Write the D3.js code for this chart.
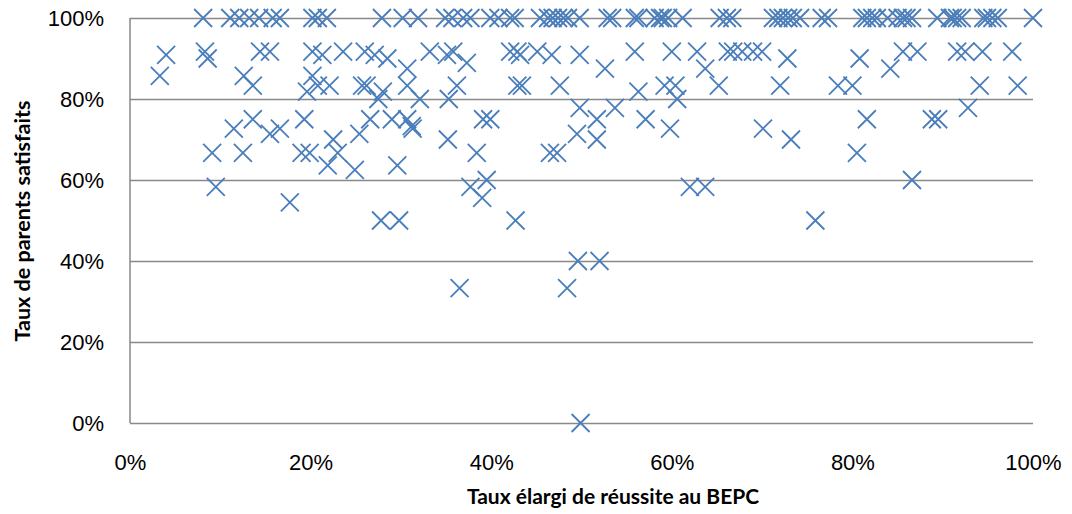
<!DOCTYPE html>
<html>
<head>
<meta charset="utf-8">
<script src="https://cdn.jsdelivr.net/npm/d3@7"></script>
<style>
  body { margin: 0; background: #fff; }
  svg { font-family: Lato, "Open Sans", sans-serif; }
</style>
</head>
<body>
<div id="chart"></div>
<script>
// taux élargi de réussite au BEPC (x, %) et taux de parents satisfaits (y, %)
const reussiteBEPC = [
  // ligne 100 %
  8.1, 11.1, 12.1, 13.2, 14.3, 15.8, 16.6, 20.2, 20.8, 21.8,
  27.9, 30.2, 31.9, 34.9, 35.7, 36.9, 37.7, 39.9, 40.8, 42.1,
  42.6, 45.4, 46.3, 46.8, 47.4, 48.0, 48.5, 49.8, 52.9, 53.4,
  55.9, 56.3, 58.1, 58.7, 59.0, 59.6, 61.2, 65.3, 66.1, 66.7,
  71.2, 71.8, 72.3, 72.9, 73.4, 74.2, 76.6, 77.3, 81.1, 81.6,
  82.2, 82.7, 83.9, 85.0, 85.6, 86.0, 86.6, 89.4, 90.8, 91.1,
  91.6, 92.1, 94.5, 94.9, 95.5, 96.1, 100,
  // autour de 90 %
  4.0, 8.3, 8.6, 14.4, 15.5, 20.2, 21.3, 23.6, 26.0, 27.1,
  28.5, 33.2, 35.1, 35.8, 42.1, 42.9, 43.2, 45.1, 46.7, 49.8,
  55.9, 60.0, 62.8, 66.2, 66.8, 67.8, 69.0, 70.0, 72.8, 80.8,
  85.6, 87.2, 91.6, 92.5, 94.4, 97.7,
  37.3, 30.7, 52.6, 63.7, 84.2,
  // 80 - 86 %
  3.3, 12.6, 13.6, 20.2, 19.6, 20.8, 22.1, 25.7, 26.2, 30.7,
  28.0, 27.5, 36.2, 42.9, 43.4, 47.6, 35.3, 32.1, 56.3, 59.2,
  60.4, 60.6, 65.2, 72.0, 78.4, 80.0, 94.1, 98.3,
  // 70 - 78 %
  11.5, 13.6, 15.5, 16.6, 19.3, 26.6, 29.0, 30.7, 31.2, 31.3,
  25.4, 22.5, 39.1, 39.9, 35.2, 49.8, 51.7, 49.5, 51.7, 53.7,
  57.1, 59.8, 70.1, 73.2, 81.6, 88.8, 89.5, 92.8,
  // 54 - 67 %
  9.1, 12.5, 19.0, 19.9, 23.0, 21.9, 29.6, 24.9, 9.5, 17.7,
  38.4, 46.5, 47.3, 39.5, 37.7, 39.0, 62.0, 63.7, 80.5, 86.6,
  // en dessous
  27.8, 29.8, 42.7, 75.9, 49.6, 52.0, 36.5, 48.4, 49.9
];

const parentsSatisfaits = [
  100, 100, 100, 100, 100, 100, 100, 100, 100, 100,
  100, 100, 100, 100, 100, 100, 100, 100, 100, 100,
  100, 100, 100, 100, 100, 100, 100, 100, 100, 100,
  100, 100, 100, 100, 100, 100, 100, 100, 100, 100,
  100, 100, 100, 100, 100, 100, 100, 100, 100, 100,
  100, 100, 100, 100, 100, 100, 100, 100, 100, 100,
  100, 100, 100, 100, 100, 100, 100,
  90.9, 91.7, 90, 91.7, 91.7, 91.7, 90.9, 91.7, 91.7, 90.9,
  90, 91.7, 90.9, 91.7, 91.7, 91.7, 90.9, 91.7, 90.9, 90.9,
  91.7, 91.7, 91.7, 91.7, 91.7, 91.7, 91.7, 91.7, 90, 90,
  91.7, 91.7, 91.7, 91.7, 91.7, 91.7,
  88.9, 87.5, 87.5, 87.5, 87.5,
  85.7, 85.7, 83.3, 85.7, 81.8, 83.3, 83.3, 83.3, 83.3, 83.3,
  81.8, 80, 83.3, 83.3, 83.3, 83.3, 80, 80, 81.8, 83.3,
  83.3, 80, 83.3, 83.3, 83.3, 83.3, 83.3, 83.3,
  72.7, 75, 71.4, 72.7, 75, 75, 75, 75, 73.3, 72.7,
  71.4, 70, 75, 75, 70, 77.8, 75, 71.4, 70, 77.8,
  75, 72.7, 72.7, 70, 75, 75, 75, 77.8,
  66.7, 66.7, 66.7, 66.7, 66.7, 63.6, 63.6, 62.5, 58.3, 54.5,
  66.7, 66.7, 66.7, 60, 58.3, 55.6, 58.3, 58.3, 66.7, 60,
  50, 50, 50, 50, 40, 40, 33.3, 33.3, 0
];

const xTicks = [0, 20, 40, 60, 80, 100];
const yTicks = [0, 20, 40, 60, 80, 100];

const titreX = "Taux élargi de réussite au BEPC";
const titreY = "Taux de parents satisfaits";

let w = 1072, h = 514;
let m = {top: 18, right: 39, bottom: 91, left: 130};

let svg = d3.select("#chart").append("svg")
    .attr("width", w)
    .attr("height", h);

let x = d3.scaleLinear().domain([0, 100]).range([m.left, w - m.right]);
let y = d3.scaleLinear().domain([0, 100]).range([h - m.bottom, m.top]);

let grey = "#898989";

// grille horizontale + libellés Y
let gy = svg.append("g")
    .attr("transform", "translate(" + m.left + ",0)")
    .call(d3.axisLeft(y)
      .tickValues(yTicks)
      .tickSize(-(x(100) - x(0)))
      .tickPadding(26)
      .tickFormat(d => d + "%"));
gy.select(".domain").remove();
gy.selectAll(".tick line").attr("stroke", grey).attr("stroke-width", 1.5);
gy.selectAll("text").attr("font-size", 22).attr("fill", "#000");

// axe vertical
svg.append("line")
    .attr("x1", x(0)).attr("x2", x(0))
    .attr("y1", y(0)).attr("y2", y(100))
    .attr("stroke", grey)
    .attr("stroke-width", 1.5);

// libellés X
let gx = svg.append("g")
    .attr("transform", "translate(0," + y(0) + ")")
    .call(d3.axisBottom(x)
      .tickValues(xTicks)
      .tickSize(0)
      .tickPadding(31)
      .tickFormat(d => d + "%"));
gx.select(".domain").remove();
gx.selectAll("text").attr("font-size", 22).attr("fill", "#000");

// points (croix)
let r = 9;
let pts = svg.append("g")
    .attr("stroke", "#4a7ebb")
    .attr("stroke-width", 1.8)
    .attr("fill", "none");

pts.selectAll("path")
  .data(reussiteBEPC.map((d, i) => [d, parentsSatisfaits[i]]))
  .enter().append("path")
    .attr("d", d => {
      let cx = x(d[0]), cy = y(d[1]);
      return "M" + (cx - r) + "," + (cy - r) + "L" + (cx + r) + "," + (cy + r) +
             "M" + (cx - r) + "," + (cy + r) + "L" + (cx + r) + "," + (cy - r);
    });

// titres
svg.append("text")
    .attr("x", 613)
    .attr("y", 504)
    .attr("text-anchor", "middle")
    .attr("font-size", 21)
    .attr("font-weight", "bold")
    .text(titreX);

svg.append("text")
    .attr("transform", "translate(30,221) rotate(-90)")
    .attr("text-anchor", "middle")
    .attr("font-size", 21.5)
    .attr("font-weight", "bold")
    .text(titreY);
</script>
</body>
</html>
